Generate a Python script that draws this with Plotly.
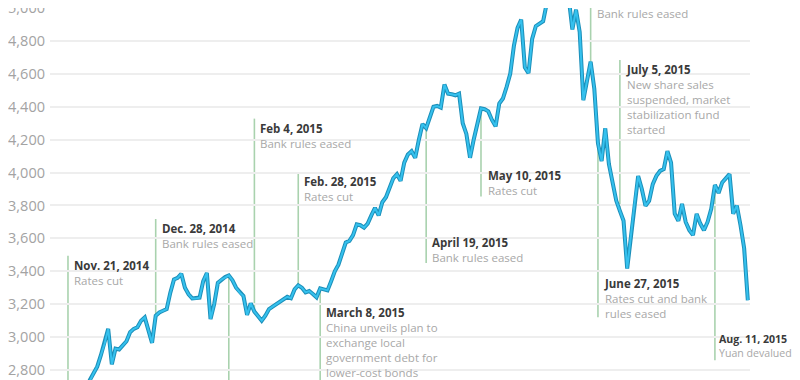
import pandas as pd
import plotly.graph_objects as go

# ---------------- data ----------------
start_date = "2014-11-21"
end_date = "2015-08-24"
market_holidays = ["2015-01-01", "2015-01-02", "2015-02-18", "2015-02-19", "2015-02-20",
                   "2015-02-23", "2015-02-24", "2015-04-06", "2015-05-01", "2015-06-22"]

index_values = (
    [2487]
    + [2532, 2568, 2604, 2630, 2690]
    + [2740, 2780, 2820, 2890, 2960]
    + [3050, 2835, 2930, 2925, 2950]
    + [2975, 3030, 3050, 3060, 3100]
    + [3120, 3040, 2965, 3130, 3150]
    + [3160, 3170, 3270]
    + [3350, 3360, 3385, 3300, 3260]
    + [3235, 3235, 3240, 3340, 3390]
    + [3110, 3200, 3330, 3350, 3365]
    + [3375, 3345, 3300, 3270, 3250]
    + [3135, 3205, 3155, 3130, 3100]
    + [3130, 3170, 3185, 3200, 3215]
    + [3235, 3245]
    + [3236, 3290, 3315]
    + [3300, 3272, 3280, 3262, 3242]
    + [3296, 3290, 3284, 3340, 3400]
    + [3440, 3510, 3575, 3585, 3620]
    + [3685, 3680, 3665, 3690, 3740]
    + [3785, 3740, 3820, 3850, 3910]
    + [3965, 3990, 3950, 4060]
    + [4110, 4130, 4090, 4200, 4295]
    + [4270, 4330, 4400, 4405, 4395]
    + [4535, 4480, 4476, 4470]
    + [4480, 4300, 4235, 4090, 4200]
    + [4300, 4390, 4385, 4372, 4320]
    + [4281, 4420, 4450, 4520, 4600]
    + [4770, 4880, 4930, 4640, 4605]
    + [4813, 4890, 4905, 4920, 5030]
    + [5131, 5113, 5106, 5121, 5166]
    + [5062, 4870, 4990, 4855, 4440]
    + [4560, 4674, 4510, 4178]
    + [4070, 4269, 4051, 3930, 3830]
    + [3767, 3707, 3417, 3620, 3810]
    + [3979, 3900, 3798, 3828, 3930]
    + [3980, 4010, 4021, 4130, 4060]
    + [3750, 3707, 3810, 3700, 3650]
    + [3620, 3749, 3690, 3650, 3700]
    + [3780, 3925, 3876, 3940, 3965]
    + [3991, 3750, 3800, 3680, 3540]
    + [3224]
)

event_titles = ["Nov. 21, 2014", "Dec. 28, 2014", "", "Feb 4, 2015", "Feb. 28, 2015",
                "March 8, 2015", "April 19, 2015", "May 10, 2015", "", "June 27, 2015",
                "July 5, 2015", "Aug. 11, 2015"]
event_notes = [["Rates cut"], ["Bank rules eased"], [], ["Bank rules eased"], ["Rates cut"],
               ["China unveils plan to", "exchange local", "government debt for", "lower-cost bonds"],
               ["Bank rules eased"], ["Rates cut"], ["Bank rules eased"],
               ["Rates cut and bank", "rules eased"],
               ["New share sales", "suspended, market", "stabilization fund", "started"],
               ["Yuan devalued"]]
event_points = ["2014-11-21", "2014-12-25", "2015-01-26", "2015-02-04", "2015-02-27",
                "2015-03-09", "2015-04-20", "2015-05-12", "2015-06-24", "2015-06-26",
                "2015-07-06", "2015-08-11"]

y_ticks = [2800, 3000, 3200, 3400, 3600, 3800, 4000, 4200, 4400, 4600, 4800, 5000]

# ---------------- layout helpers (positions, not data) ----------------
label_tops = [3495, 3718, None, 4328, 4003, 3210, 3634, 4040, 4966, 3384, 4684, 3042]
label_anchor = ["top"] * 8 + ["middle"] + ["top"] * 3
label_xshift = [4, 4, 4, 4, 4, 4, 4, 5, 4, 4, 4, 2]
label_size = [11.5] * 11 + [10.6]
line_ends = [3495, 3718, 2600, 4328, 4003, 2600, 3450, 3855, 5200, 3120, 4684, 2860]

# ---------------- build ----------------
hol = set(pd.to_datetime(market_holidays))
days = [d for d in pd.bdate_range(start_date, end_date) if d not in hol]
dates = [d.strftime("%Y-%m-%d") for d in days]
if len(dates) != len(index_values):
    raise SystemExit(f"length mismatch {len(dates)} vs {len(index_values)}")

val_of = dict(zip(dates, index_values))
pos_of = {d: i for i, d in enumerate(dates)}

fig = go.Figure()

LINE_GREEN = "#a9d2ae"
DOT_GREEN = "#5cbf5a"

shapes = []
annotations = []
for title, notes, pt, top, anc, xs, fs, end in zip(event_titles, event_notes, event_points,
                                                   label_tops, label_anchor, label_xshift,
                                                   label_size, line_ends):
    xi = pos_of[pt]
    yv = val_of[pt]
    shapes.append(dict(type="line", xref="x", yref="y", x0=xi, x1=xi, y0=yv, y1=end,
                       line=dict(color=LINE_GREEN, width=1.6), layer="below"))
    if top is not None:
        parts = []
        if title:
            parts.append(f"<b>{title}</b>")
        parts += [f"<span style='color:#a8a8a8'>{n}</span>" for n in notes]
        annotations.append(dict(x=xi, y=top, xref="x", yref="y", xanchor="left", yanchor=anc,
                                xshift=xs, align="left", showarrow=False, text="<br>".join(parts),
                                font=dict(family="Open Sans", size=fs, color="#3a3a3a")))

fig.add_trace(go.Scatter(x=dates, y=index_values, mode="lines",
                         line=dict(color="#1c8fb9", width=4), hoverinfo="skip"))
fig.add_trace(go.Scatter(x=dates, y=index_values, mode="lines",
                         line=dict(color="#35c1ee", width=2), hoverinfo="skip"))
fig.add_trace(go.Scatter(x=[pos_of[p] for p in event_points], y=[val_of[p] for p in event_points],
                         mode="markers", marker=dict(color=DOT_GREEN, size=6), hoverinfo="skip"))

fig.update_layout(
    width=792, height=372,
    margin=dict(l=42, r=50, t=0, b=0, autoexpand=False),
    paper_bgcolor="white", plot_bgcolor="white",
    showlegend=False,
    shapes=shapes, annotations=annotations,
    xaxis=dict(type="category", range=[-4.92, 186.6], showgrid=False, showticklabels=False,
               zeroline=False, showline=False, ticks="", automargin=False),
    yaxis=dict(range=[2739.2, 5000.5], tickvals=y_ticks, ticktext=[f"{v:,}" for v in y_ticks],
               showgrid=True, gridcolor="#eeeeee", gridwidth=1.5, zeroline=False, showline=False,
               ticks="", ticklabelstandoff=4, ticklabeloverflow="allow", automargin=False,
               tickfont=dict(family="Open Sans", size=14.5, color="#a3a3a3")),
)

fig.write_html("out.html")
